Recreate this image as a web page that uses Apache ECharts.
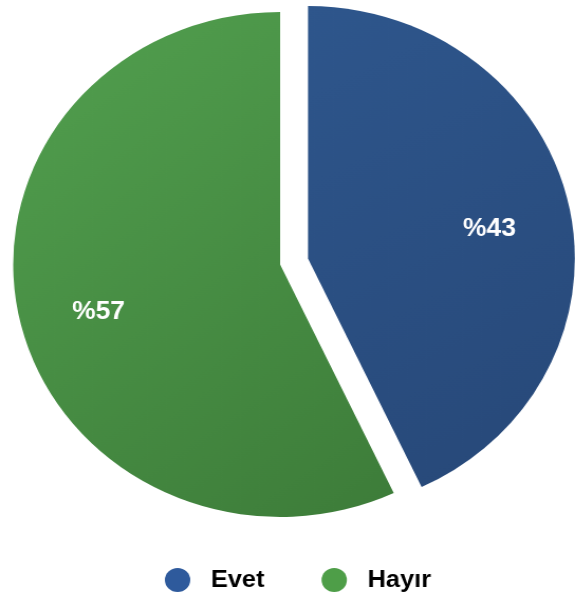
<!DOCTYPE html>
<html>
<head>
<meta charset="utf-8">
<script src="https://cdn.jsdelivr.net/npm/echarts@6/dist/echarts.min.js"></script>
<style>
html,body{margin:0;padding:0;background:#fff;overflow:hidden;}
#chart{width:544px;height:599px;transform:scaleX(1.057);transform-origin:0 0;}
</style>
</head>
<body>
<div id="chart"></div>
<script>
const categories = ['Evet', 'Hayır'];
const values = [43, 57];
const labels = ['%43', '%57'];
const sliceColors = [
  ['#2e568c', '#274878'],
  ['#52a04f', '#3d7c39']
];
const legendColors = ['#2e5a9c', '#4e9e48'];

const chart = echarts.init(document.getElementById('chart'), null, {renderer: 'canvas'});
const center = [265, 264.5];
const labelCenter = [265, 273.5];
const offset = 27;

const mainData = categories.map((c, i) => ({
  name: c,
  value: values[i],
  selected: i === 0,
  itemStyle: {
    color: new echarts.graphic.LinearGradient(0, 0, 1, 1, [
      {offset: 0, color: sliceColors[i][0]},
      {offset: 1, color: sliceColors[i][1]}
    ])
  }
}));
const labelData = categories.map((c, i) => ({
  name: c,
  value: values[i],
  selected: i === 0,
  label: {formatter: labels[i]}
}));

chart.setOption({
  animation: false,
  legend: {
    left: 156,
    top: 568,
    orient: 'horizontal',
    icon: 'circle',
    itemWidth: 25,
    itemHeight: 24,
    itemGap: 54,
    padding: 0,
    selectedMode: false,
    textStyle: {
      fontFamily: 'Liberation Sans, Arial, sans-serif',
      fontWeight: 'bold',
      fontSize: 24,
      color: '#000',
      padding: [0, 0, 0, 14]
    },
    data: categories.map((c, i) => ({name: c, itemStyle: {color: legendColors[i]}}))
  },
  series: [
    {
      type: 'pie',
      center: center,
      radius: [0, 252.5],
      startAngle: 90,
      clockwise: true,
      selectedMode: 'single',
      selectedOffset: offset,
      label: {show: false},
      labelLine: {show: false},
      emphasis: {disabled: true},
      data: mainData
    },
    {
      type: 'pie',
      center: labelCenter,
      radius: [0, 346],
      startAngle: 90,
      clockwise: true,
      silent: true,
      selectedMode: 'single',
      selectedOffset: offset,
      itemStyle: {color: 'rgba(0,0,0,0)', borderWidth: 0},
      label: {
        show: true,
        position: 'inside',
        color: '#fff',
        fontFamily: 'Liberation Sans, Arial, sans-serif',
        fontWeight: 'bold',
        fontSize: 25
      },
      labelLine: {show: false},
      emphasis: {disabled: true},
      data: labelData
    }
  ]
});
</script>
</body>
</html>
